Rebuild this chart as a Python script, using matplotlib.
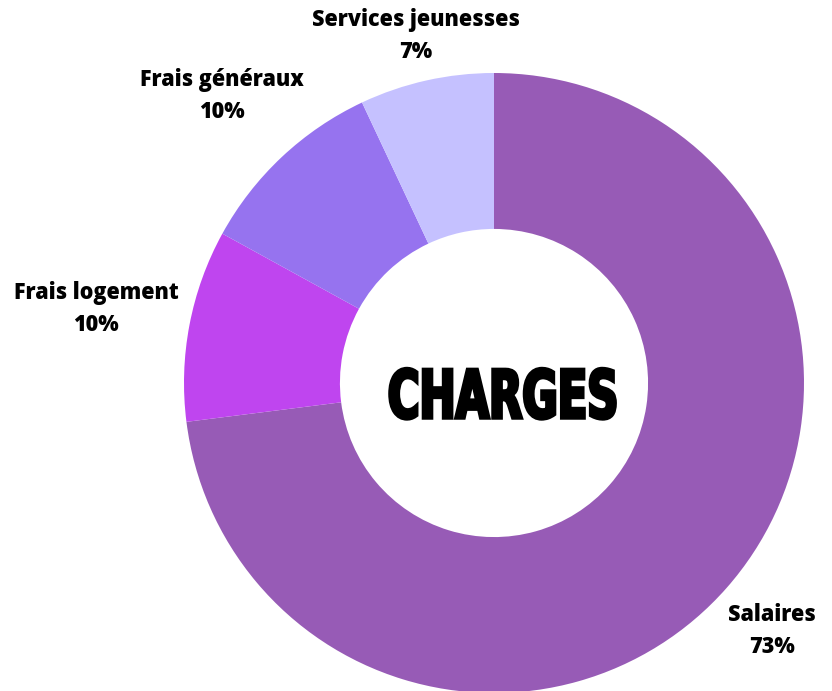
import matplotlib.pyplot as plt
from matplotlib.patheffects import AbstractPathEffect
from matplotlib.transforms import Affine2D

# Données
categories = ["Salaires", "Frais logement", "Frais généraux", "Services jeunesses"]
valeurs = [73, 10, 10, 7]
couleurs = ["#975BB6", "#BF45EF", "#9673EF", "#C5C1FF"]


class Etroit(AbstractPathEffect):
    """Resserre le texte horizontalement autour de x0 et épaissit le trait."""

    def __init__(self, x0, sx, lw):
        super().__init__()
        self.x0, self.sx, self.lw = x0, sx, lw

    def draw_path(self, renderer, gc, tpath, affine, rgbFace=None):
        t = affine + Affine2D().translate(-self.x0, 0).scale(self.sx, 1).translate(self.x0, 0)
        gc0 = renderer.new_gc()
        gc0.copy_properties(gc)
        gc0.set_linewidth(self.lw)
        gc0.set_foreground("black")
        gc0.set_joinstyle("miter")
        renderer.draw_path(gc0, tpath, t, rgbFace)
        gc0.restore()


W, H = 832, 691
fig = plt.figure(figsize=(W / 100, H / 100), dpi=100)
ax = fig.add_axes([0, 0, 1, 1])

cx, cy, r = 494, H - 383, 310
ax.pie(valeurs, colors=couleurs, startangle=90, counterclock=False,
       center=(cx, cy), radius=r, frame=True,
       wedgeprops=dict(width=r * 0.503, linewidth=0))
ax.set_xlim(0, W)
ax.set_ylim(0, H)
ax.set_aspect("equal")
ax.axis("off")

# Étiquettes (position en pixels depuis le haut)
pos_etiquettes = [(772, 631), (96, 309), (222, 96), (416, 36)]
for cat, val, (x, y) in zip(categories, valeurs, pos_etiquettes):
    ax.text(x, H - y, f"{cat}\n{val}%", ha="center", va="center",
            fontsize=15.5, fontweight="heavy", family="Open Sans",
            linespacing=1.45)

tx, ty = 503, H - 399
x0 = ax.transData.transform((tx, ty))[0]
ax.text(tx, ty, "CHARGES", ha="center", va="center",
        fontsize=48, fontweight="bold", family="DejaVu Sans",
        fontstretch="condensed", path_effects=[Etroit(x0, 0.72, 2.5)])

fig.savefig("out.png", dpi=100, facecolor="white")
